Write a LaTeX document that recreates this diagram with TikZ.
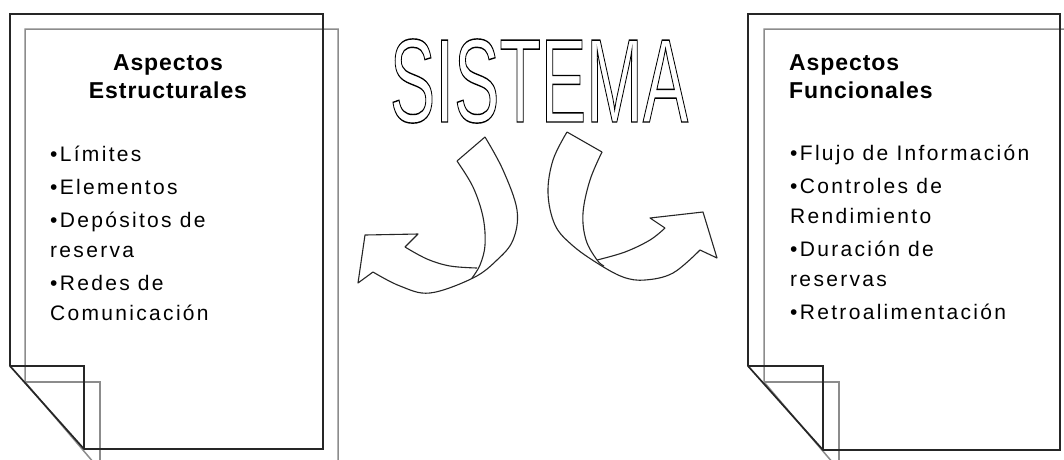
\documentclass[tikz,border=0pt]{standalone}
\usepackage{fontspec}
\usepackage{graphicx}
\setmainfont{Liberation Sans}
\newfontfamily\bodyfont[LetterSpace=11]{Liberation Sans}
\newfontfamily\headfont[LetterSpace=4]{Liberation Sans}
\newfontfamily\bigfont{Liberation Sans}
\begin{document}
\begin{tikzpicture}[x=1pt,y=-1pt,
  darkpage/.style={draw=black!85,line width=1.7pt,line join=miter},
  graypage/.style={draw=black!45,line width=1.5pt,line join=miter},
  arrowline/.style={draw=black!85,line width=1.1pt,line join=round},
  headtext/.style={inner sep=0pt,font=\headfont\bfseries\fontsize{23}{28}\selectfont},
  bodytext/.style={inner sep=0pt,align=left,anchor=north west,font=\bodyfont\fontsize{21}{30}\selectfont},
]
\clip (0,0) rectangle (1064,459);
\fill[white] (0,0) rectangle (1064,459);
% ---- left page ----
\draw[graypage] (25,29) -- (338,29) -- (338,470) -- (100,470) -- (25,382) -- cycle;
\draw[graypage] (25,382) -- (100,382) -- (100,470);
\draw[darkpage] (10,14) -- (323,14) -- (323,449) -- (84,449) -- (10,366) -- cycle;
\draw[darkpage] (10,366) -- (84,366) -- (84,449);
% ---- right page ----
\draw[graypage] (764,29) -- (1075,29) -- (1075,470) -- (839,470) -- (764,382) -- cycle;
\draw[graypage] (764,382) -- (839,382) -- (839,470);
\draw[darkpage] (748,14) -- (1060,14) -- (1060,450) -- (823,450) -- (748,366) -- cycle;
\draw[darkpage] (748,366) -- (823,366) -- (823,450);
% ---- texts ----
\node[headtext,anchor=north,align=center] (hleft) at (168,48)
  {\rule{0pt}{22pt}Aspectos\\Estructurales};
\node[bodytext] (bleft) at (50,140)
  {\rule{0pt}{21pt}•Límites\\[3pt]•Elementos\\[3pt]•Depósitos de\\reserva\\[3pt]•Redes de\\Comunicación};
\node[headtext,anchor=north west,align=left] (hright) at (789,48)
  {\rule{0pt}{22pt}Aspectos\\Funcionales};
\node[bodytext] (bright) at (790,139)
  {\rule{0pt}{21pt}•Flujo de Información\\[3pt]•Controles de\\Rendimiento\\[3pt]•Duración de\\reservas\\[3pt]•Retroalimentación};
% ---- SISTEMA ----
\node[inner sep=0pt,anchor=base,text=black] (title) at (539,122)
  {\scalebox{0.571}[1]{\bigfont\fontsize{119}{119}\selectfont\special{pdf:literal direct 1 Tr 1.4 w}SISTEMA\special{pdf:literal direct 0 Tr}}};
% ---- left curved arrow ----
\draw[arrowline] (457,161) -- (485,137);
\draw[arrowline] plot[smooth,tension=0.6] coordinates {(485,137) (503,170) (517,210) (513,240) (497,260) (473,278) (430,293) (400,286) (373,272)};
\draw[arrowline] (373,272) -- (358,283) -- (365,235) -- (418,234) -- (405,247);
\draw[arrowline] plot[smooth,tension=0.6] coordinates {(405,247) (427,259) (450,266) (477,268)};
\draw[arrowline] plot[smooth,tension=0.6] coordinates {(457,161) (473,187) (483,217) (485,245) (480,265) (472,278)};
% ---- right curved arrow ----
\draw[arrowline] (567,132) -- (602,152);
\draw[arrowline] plot[smooth,tension=0.6] coordinates {(567,132) (553,160) (548,193) (555,225) (572,245) (597,263) (623,277) (645,280) (673,273) (700,250)};
\draw[arrowline] (700,250) -- (717,258) -- (703,212) -- (650,218) -- (665,228);
\draw[arrowline] plot[smooth,tension=0.6] coordinates {(665,228) (650,240) (625,252) (597,260)};
\draw[arrowline] plot[smooth,tension=0.6] coordinates {(602,152) (590,180) (583,213) (586,240) (597,260) (604,266)};
\end{tikzpicture}
\end{document}
